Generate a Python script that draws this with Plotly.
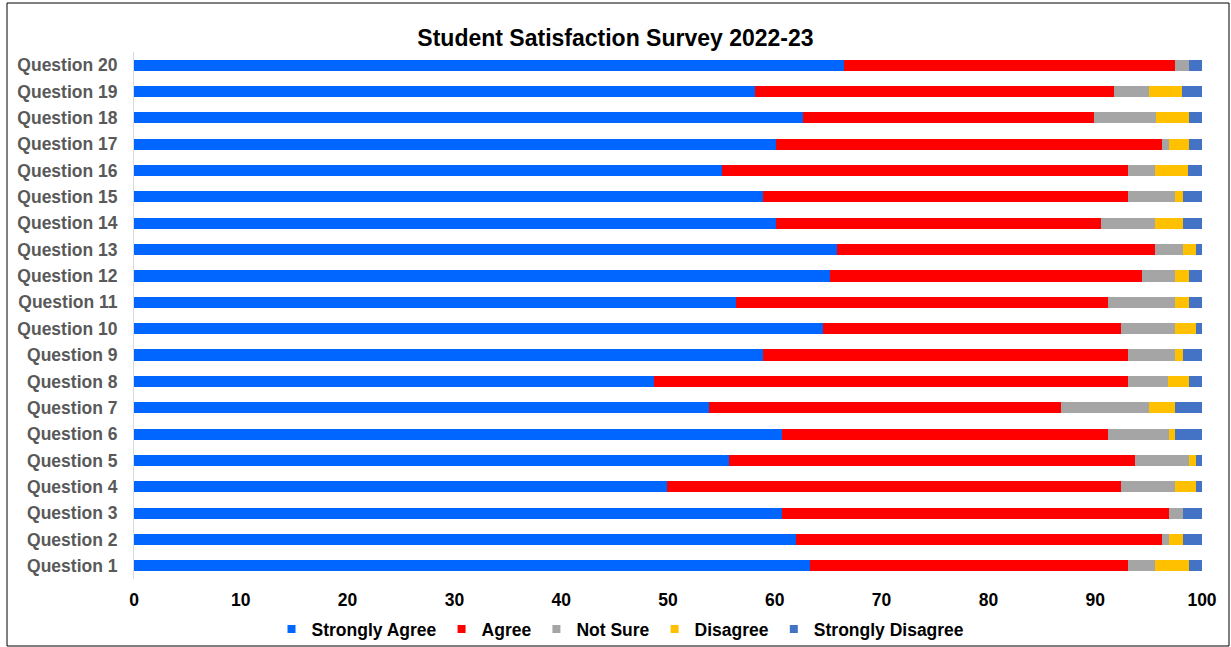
import plotly.graph_objects as go

questions = [f"Question {i}" for i in range(1, 21)]
strongly_agree = [63.3, 62.0, 60.7, 49.9, 55.7, 60.7, 53.8, 48.7, 58.9, 64.5,
                  56.4, 65.2, 65.8, 60.1, 58.9, 55.1, 60.1, 62.6, 58.1, 66.5]
agree = [29.8, 34.3, 36.2, 42.5, 38.0, 30.5, 33.0, 44.4, 34.2, 27.9,
         34.8, 29.2, 29.8, 30.4, 34.2, 38.0, 36.2, 27.3, 33.7, 31.0]
not_sure = [2.5, 0.6, 1.3, 5.1, 5.1, 5.7, 8.2, 3.7, 4.4, 5.1,
            6.3, 3.1, 2.6, 5.1, 4.4, 2.5, 0.6, 5.8, 3.2, 1.3]
disagree = [3.2, 1.3, 0.0, 1.9, 0.6, 0.6, 2.5, 2.0, 0.7, 1.9,
            1.3, 1.3, 1.2, 2.6, 0.7, 3.1, 1.9, 3.1, 3.1, 0.0]
strongly_disagree = [1.2, 1.8, 1.8, 0.6, 0.6, 2.5, 2.5, 1.2, 1.8, 0.6,
                     1.2, 1.2, 0.6, 1.8, 1.8, 1.3, 1.2, 1.2, 1.9, 1.2]

series = [
    ("Strongly Agree", strongly_agree, "#0066FF"),
    ("Agree", agree, "#FF0000"),
    ("Not Sure", not_sure, "#A5A5A5"),
    ("Disagree", disagree, "#FFC000"),
    ("Strongly Disagree", strongly_disagree, "#4472C4"),
]

FONT = "Liberation Sans, Arial"
W, H = 1231, 647
L, R, T, B = 134, 29, 52, 68
PW, PH = W - L - R, H - T - B

fig = go.Figure()
for name, vals, color in series:
    fig.add_trace(go.Bar(y=questions, x=vals, name=name, orientation="h",
                         marker=dict(color=color, line=dict(width=0)),
                         showlegend=False))
for name, vals, color in series:
    fig.add_trace(go.Scatter(x=[None], y=[None], mode="markers", name=name,
                             marker=dict(symbol="square", size=8, color=color)))

fig.update_layout(
    barmode="stack",
    bargap=0.58,
    width=W, height=H,
    paper_bgcolor="white", plot_bgcolor="white",
    margin=dict(l=L, r=R, t=T, b=B, autoexpand=False),
    title=dict(text="<b>Student Satisfaction Survey 2022-23</b>", x=0.5, xanchor="center",
               y=1 - 38 / H, yanchor="middle",
               font=dict(family=FONT, size=23, color="black")),
    font=dict(family=FONT),
    xaxis=dict(range=[0, 100], dtick=10, showgrid=False, zeroline=False,
               showline=False, ticks="", ticklabelstandoff=8,
               tickfont=dict(family=FONT, size=17.5, color="black", weight="bold")),
    yaxis=dict(showgrid=False, zeroline=False, showline=True, linecolor="#D9D9D9",
               linewidth=1, ticks="", ticklabelstandoff=12,
               tickfont=dict(family=FONT, size=17.5, color="#595959", weight="bold")),
    legend=dict(orientation="h", x=(620.5 - L) / PW, xanchor="center",
                yref="container", y=1 - 629 / H, yanchor="middle",
                bgcolor="rgba(0,0,0,0)",
                font=dict(family=FONT, size=17.5, color="black", weight="bold"),
                traceorder="normal", itemwidth=30, tracegroupgap=0),
    shapes=[dict(type="rect", xref="paper", yref="paper",
                 x0=(7 - L) / PW, x1=(1229 - L) / PW,
                 y0=(H - B - 646) / PH, y1=(H - B - 3) / PH,
                 line=dict(color="black", width=1), fillcolor="rgba(0,0,0,0)")],
)

fig.write_html("out.html", config={"displayModeBar": False},
               post_script="document.body.style.margin='0px';")
